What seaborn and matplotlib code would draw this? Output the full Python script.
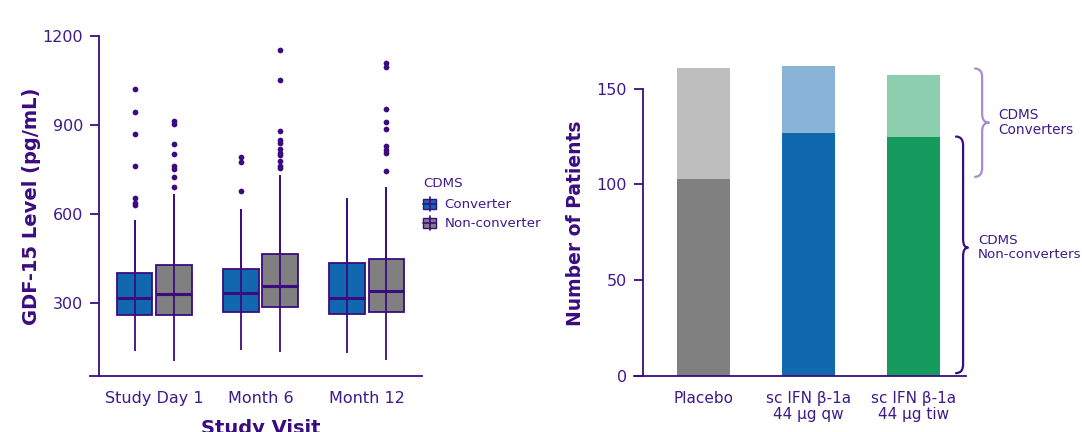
import numpy as np
import pandas as pd
import matplotlib
matplotlib.use("Agg")
import matplotlib.pyplot as plt
import seaborn as sns
from matplotlib.patches import Rectangle, PathPatch
from matplotlib.lines import Line2D
from matplotlib.legend_handler import HandlerBase
from matplotlib.path import Path
import matplotlib.patches as mpatches
import matplotlib.transforms as mtrans

# ---------------- data ----------------
visits = ["Study Day 1", "Month 6", "Month 12"]
groups = ["Converter", "Non-converter"]

# box statistics per visit (lower whisker, Q1, median, Q3, upper whisker)
conv_lo = [139, 141, 131]
conv_q1 = [260, 269, 265]
conv_med = [317, 336, 319]
conv_q3 = [401, 417, 434]
conv_hi = [582, 618, 653]

non_lo = [107, 135, 110]
non_q1 = [259, 289, 269]
non_med = [330, 359, 341]
non_q3 = [428, 467, 448]
non_hi = [668, 731, 692]

conv_fliers = [
    [1022, 945, 871, 762, 656, 638, 630],
    [791, 776, 679],
    [],
]
non_fliers = [
    [915, 903, 836, 804, 763, 752, 725, 692],
    [1152, 1051, 881, 851, 838, 821, 806, 799, 780, 763, 754],
    [1108, 1095, 954, 911, 888, 829, 815, 807, 747],
]

treatments = ["Placebo", "sc IFN \u03b2-1a\n44 \u00b5g qw", "sc IFN \u03b2-1a\n44 \u00b5g tiw"]
n_nonconverters = [103, 127, 125]
n_converters = [58, 35, 32]

# ---------------- style ----------------
sns.set_theme(style="white")
plt.rcParams["font.family"] = ["DejaVu Sans"]

TXT = "#3F1A8A"
LINE = "#3A0C80"
BOX_COLORS = {"Converter": "#1268AE", "Non-converter": "#808080"}
DARK = ["#808080", "#1068AF", "#169B5E"]
LIGHT = ["#BEBEBE", "#8AB4D7", "#8DCEAF"]

W, H = 1082, 432
fig = plt.figure(figsize=(W / 100, H / 100), dpi=100)

# ---------------- left: boxplot ----------------
ax1 = fig.add_axes([99 / W, (H - 376) / H, 323 / W, (376 - 36) / H])

rows = []
for g, (lo, q1, md, q3, hi) in zip(groups, [
        (conv_lo, conv_q1, conv_med, conv_q3, conv_hi),
        (non_lo, non_q1, non_med, non_q3, non_hi)]):
    for i, v in enumerate(visits):
        for val in (lo[i], q1[i], md[i], q3[i], hi[i]):
            rows.append({"visit": v, "CDMS": g, "value": val})
box_df = pd.DataFrame(rows)

sns.boxplot(data=box_df, x="visit", y="value", hue="CDMS", order=visits,
            hue_order=groups, palette=BOX_COLORS, whis=(0, 100),
            width=0.74, gap=0.1, saturation=1, linecolor=LINE, linewidth=1.3,
            showcaps=False, showfliers=False, legend=False, ax=ax1,
            medianprops={"linewidth": 2.2, "color": LINE})

# whisker drawn as a continuous line through the box; fliers at box centres
flier_sets = [conv_fliers, non_fliers]
for c, fl in zip(ax1.containers, flier_sets):
    for i in range(len(c.boxes)):
        wl, wu = c.whiskers[2 * i], c.whiskers[2 * i + 1]
        wl.set_ydata([wl.get_ydata()[1], wu.get_ydata()[1]])
        wl.set_zorder(c.boxes[i].get_zorder() + 0.5)
        c.medians[i].set_zorder(c.boxes[i].get_zorder() + 1)
        xc = np.mean(c.medians[i].get_xdata())
        if len(fl[i]):
            ax1.scatter(np.full(len(fl[i]), xc), fl[i], s=17, color=LINE,
                        linewidths=0, zorder=4)

ax1.set_xlim(-0.52, 2.52)
ax1.set_ylim(55, 1200)
ax1.set_yticks([300, 600, 900, 1200])
ax1.set_ylabel("GDF-15 Level (pg/mL)", fontsize=14, fontweight="bold", color=LINE)
ax1.yaxis.set_label_coords(-0.179, 0.5)
ax1.set_xlabel("Study Visit", fontsize=14, fontweight="bold", color=LINE, labelpad=9)

# ---------------- right: stacked bars ----------------
ax2 = fig.add_axes([643 / W, (H - 376) / H, 323 / W, (376 - 54) / H])
totals = [a + b for a, b in zip(n_nonconverters, n_converters)]
sns.barplot(x=treatments, y=totals, hue=treatments, palette=LIGHT, width=0.5,
            saturation=1, legend=False, ax=ax2, linewidth=0, edgecolor="none")
sns.barplot(x=treatments, y=n_nonconverters, hue=treatments, palette=DARK, width=0.5,
            saturation=1, legend=False, ax=ax2, linewidth=0, edgecolor="none")
ax2.set_xlim(-0.576, 2.5)
ax2.set_ylim(0, 168.1)
ax2.set_yticks([0, 50, 100, 150])
ax2.set_ylabel("Number of Patients", fontsize=13.5, fontweight="bold", color=LINE)
ax2.yaxis.set_label_coords(-0.179, 0.474)
ax2.set_xlabel("")

for ax, lo_bound, hi_bound in ((ax1, 55, 1200), (ax2, 0, 150)):
    for s in ("top", "right"):
        ax.spines[s].set_visible(False)
    for s in ("left", "bottom"):
        ax.spines[s].set_color(LINE)
        ax.spines[s].set_linewidth(1.3)
    ax.spines["left"].set_bounds(lo_bound, hi_bound)
    x0, x1 = ax.get_xlim()
    ext = 9 / (323 / (x1 - x0))
    ax.spines["bottom"].set_bounds(x0 - ext, x1)
    ax.tick_params(axis="y", length=6.5, width=1.3, color=LINE, labelcolor=TXT,
                   labelsize=11.5, pad=5, left=True)
    ax.tick_params(axis="x", length=0, labelcolor=TXT, labelsize=11.5, pad=11)
    ax.grid(False)
    ax.set_facecolor("none")

for lab in ax2.get_xticklabels():
    lab.set_linespacing(1.05)
    lab.set_fontsize(11)

# ---------------- braces ----------------
def brace(ax, x_end, x_line, x_tip, y_bot, y_top, y_mid, r, color):
    tr = mtrans.blended_transform_factory(ax.transAxes, ax.transData)
    verts = [
        (x_end, y_top), (x_line, y_top), (x_line, y_top - r),
        (x_line, y_mid + r),
        (x_line, y_mid), (x_tip, y_mid),
        (x_line, y_mid), (x_line, y_mid - r),
        (x_line, y_bot + r),
        (x_line, y_bot), (x_end, y_bot),
    ]
    codes = [Path.MOVETO, Path.CURVE3, Path.CURVE3, Path.LINETO,
             Path.CURVE3, Path.CURVE3, Path.CURVE3, Path.CURVE3,
             Path.LINETO, Path.CURVE3, Path.CURVE3]
    p = PathPatch(Path(verts, codes), transform=tr, fill=False, edgecolor=color,
                  linewidth=1.6, clip_on=False, capstyle="round", joinstyle="round")
    ax.add_patch(p)

lower_top = max(n_nonconverters) - 2
upper_bot = min(n_nonconverters) + 1
upper_top = max(totals) - 1.5
brace(ax2, 0.969, 0.991, 1.006, 1.5, lower_top, 67, 4.5, LINE)
brace(ax2, 1.028, 1.050, 1.071, upper_bot, upper_top, (upper_bot + upper_top) / 2, 4.5, "#A68DCF")

blend = mtrans.blended_transform_factory(ax2.transAxes, ax2.transData)
ax2.text(1.099, (upper_bot + upper_top) / 2, "CDMS\nConverters", transform=blend,
         fontsize=9.8, color=TXT, va="center", ha="left", linespacing=1.05)
ax2.text(1.037, 67, "CDMS\nNon-converters", transform=blend,
         fontsize=9.6, color=TXT, va="center", ha="left", linespacing=1.05)

# ---------------- legend ----------------
class BoxHandler(HandlerBase):
    def create_artists(self, legend, orig_handle, xdescent, ydescent, width, height, fontsize, trans):
        x0, y0 = -xdescent, -ydescent
        r = Rectangle((x0, y0), width, height, facecolor=orig_handle.get_facecolor(),
                      edgecolor=LINE, linewidth=1.0, transform=trans)
        h = Line2D([x0, x0 + width], [y0 + height / 2] * 2, color=LINE, lw=1.2, transform=trans)
        v = Line2D([x0 + width / 2] * 2, [y0 - 1.5, y0 + height + 1.5], color=LINE, lw=1.2, transform=trans)
        return [r, h, v]

handles = [mpatches.Patch(facecolor=BOX_COLORS[g], label=g) for g in groups]
fig.legend(handles=handles, labels=groups, title="CDMS", loc="upper left",
           bbox_to_anchor=(423 / W, 1 - 177 / H), frameon=False, fontsize=9.6,
           title_fontsize=9.6, labelcolor=TXT, borderpad=0, borderaxespad=0,
           handlelength=1.0, handleheight=0.8, handletextpad=0.6, labelspacing=0.45,
           alignment="left", handler_map={mpatches.Patch: BoxHandler()})
fig.legends[0].get_title().set_color(TXT)
fig.legends[0]._legend_box.sep = 6

fig.savefig("out.png", dpi=100)
